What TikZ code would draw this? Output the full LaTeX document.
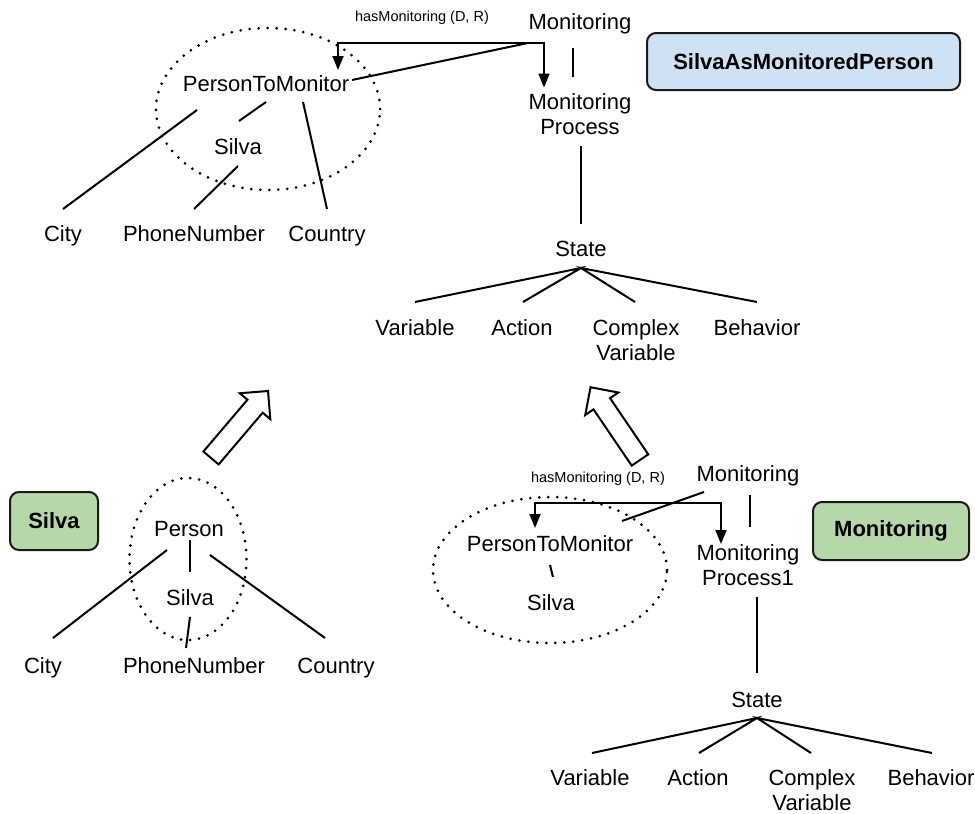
\documentclass[tikz,border=0pt]{standalone}
\usepackage{fontspec}
\setmainfont{Liberation Sans}
\usetikzlibrary{arrows.meta,shapes.geometric}
\definecolor{boxblue}{HTML}{CFE2F3}
\definecolor{boxgreen}{HTML}{B6D7A8}
\begin{document}
\begin{tikzpicture}[x=1pt,y=-1pt,
 lbl/.style={font=\fontsize{22}{25}\selectfont, inner sep=0pt, text height=16pt, text depth=0pt},
 lbltwo/.style={font=\fontsize{22}{25}\selectfont, inner sep=0pt, align=center},
 small/.style={font=\fontsize{14.5}{17}\selectfont, inner sep=0pt},
 conn/.style={line width=2pt},
 arr/.style={line width=2pt,-{Triangle[length=14pt,width=11pt]}},
 dotring/.style={ellipse, draw, line width=3pt, dash pattern=on 0pt off 9pt, line cap=round, inner sep=0pt},
 tag/.style={draw=black!90, line width=2pt, rounded corners=9pt, font=\fontsize{22}{25}\selectfont\bfseries, inner sep=0pt},
 hollow/.style={draw, line width=2pt, fill=white, line join=miter}
]
\useasboundingbox (0,0) rectangle (975,814);
\fill[white] (0,0) rectangle (975,814);

% ---------- top: SilvaAsMonitoredPerson ----------
\node[small] (hmT) at (422,18) {hasMonitoring (D, R)};
\node[lbl] (monT) at (580,21) {Monitoring};
\node[lbltwo] (mpT) at (580,114.5) {Monitoring\\Process};
\node[lbl] (ptmT) at (266,83) {PersonToMonitor};
\node[lbl] (silT) at (238,146) {Silva};
\node[lbl] (cityT) at (63,233) {City};
\node[lbl] (phoneT) at (194,233) {PhoneNumber};
\node[lbl] (countryT) at (327,233) {Country};
\node[lbl] (stateT) at (581,248) {State};
\node[lbl] (varT) at (415,327) {Variable};
\node[lbl] (actT) at (522,327) {Action};
\node[lbltwo] (cvT) at (636,340) {Complex\\Variable};
\node[lbl] (behT) at (757,327) {Behavior};
\node[tag, fill=boxblue, minimum width=313pt, minimum height=57pt] (boxT) at (803.5,61.5) {SilvaAsMonitoredPerson};
\node[dotring, minimum width=224pt, minimum height=162pt] (ringT) at (268,109) {};

\coordinate (forkT) at ([shift={(-52,22)}]monT.center);
\draw[arr] (forkT) -| ([shift={(-36,-27)}]mpT.center);
\draw[arr] (forkT) -| ([shift={(72,-13)}]ptmT.center);
\draw[conn] (forkT) -- ([shift={(86,-3)}]ptmT.center);
\draw[conn] ([shift={(-7,27)}]monT.center) -- ([shift={(-7,-37.5)}]mpT.center);
\draw[conn] ([shift={(1,31.5)}]mpT.center) -- ([shift={(0,-24)}]stateT.center);
\draw[conn] ([shift={(-69,27)}]ptmT.center) -- ([shift={(0,-24)}]cityT.center);
\draw[conn] ([shift={(0,19)}]ptmT.center) -- ([shift={(1,-25)}]silT.center);
\draw[conn] ([shift={(0,20)}]silT.center) -- ([shift={(0,-24)}]phoneT.center);
\draw[conn] ([shift={(37,19)}]ptmT.center) -- ([shift={(0,-24)}]countryT.center);
\coordinate (jT) at ([shift={(0,20)}]stateT.center);
\draw[conn] ([shift={(0,-25)}]varT.center) -- (jT) -- ([shift={(1,-25)}]actT.center);
\draw[conn] ([shift={(-1,-38)}]cvT.center) -- (jT) -- ([shift={(0,-25)}]behT.center);

% ---------- bottom left: Silva ----------
\node[tag, fill=boxgreen, minimum width=88pt, minimum height=58pt] (boxS) at (54,521) {Silva};
\node[dotring, minimum width=117pt, minimum height=162pt] (ringL) at (188,559) {};
\node[lbl] (perL) at (189,528) {Person};
\node[lbl] (silL) at (190,597) {Silva};
\node[lbl] (cityL) at (43,665) {City};
\node[lbl] (phoneL) at (194,665) {PhoneNumber};
\node[lbl] (countryL) at (336,665) {Country};
\draw[conn] ([shift={(1,12)}]perL.center) -- ([shift={(0,-25)}]silL.center);
\draw[conn] ([shift={(-22,22)}]perL.center) -- ([shift={(10,-27)}]cityL.center);
\draw[conn] ([shift={(21,27)}]perL.center) -- ([shift={(-11,-27)}]countryL.center);
\draw[conn] ([shift={(0,20)}]silL.center) -- ([shift={(-8,-17)}]phoneL.center);

% ---------- bottom right: Monitoring ----------
\node[small] (hmB) at (598,479) {hasMonitoring (D, R)};
\node[lbl] (monB) at (748,473) {Monitoring};
\node[lbltwo] (mpB) at (748,565) {Monitoring\\Process1};
\node[lbl] (ptmB) at (550,543) {PersonToMonitor};
\node[lbl] (silB) at (551,602) {Silva};
\node[dotring, minimum width=234pt, minimum height=146pt] (ringR) at (550,570) {};
\node[lbl] (stateB) at (757,699) {State};
\node[lbl] (varB) at (590,777) {Variable};
\node[lbl] (actB) at (698,777) {Action};
\node[lbltwo] (cvB) at (812,790) {Complex\\Variable};
\node[lbl] (behB) at (931,777) {Behavior};
\node[tag, fill=boxgreen, minimum width=156pt, minimum height=58pt] (boxM) at (891,531) {Monitoring};

\coordinate (forkB) at ([shift={(-120,30)}]monB.center);
\draw[arr] (forkB) -| ([shift={(-15,-15)}]ptmB.center);
\draw[arr] (forkB) -| ([shift={(-27,-21)}]mpB.center);
\draw[conn] ([shift={(-44,19)}]monB.center) -- ([shift={(72,-22)}]ptmB.center);
\draw[conn] ([shift={(2,22)}]monB.center) -- ([shift={(2,-38)}]mpB.center);
\draw[conn] ([shift={(9,32)}]mpB.center) -- ([shift={(0,-26)}]stateB.center);
\draw[conn] ([shift={(0,22)}]ptmB.center) -- ([shift={(2,-25)}]silB.center);
\coordinate (jB) at ([shift={(0,19)}]stateB.center);
\draw[conn] ([shift={(2,-24)}]varB.center) -- (jB) -- ([shift={(1,-24)}]actB.center);
\draw[conn] ([shift={(-1,-37)}]cvB.center) -- (jB) -- ([shift={(1,-24)}]behB.center);

% ---------- hollow arrows ----------
\begin{scope}[shift={(211,458)}, rotate=49.6]
\draw[hollow] (0,-10) -- (68,-10) -- (68,-20) -- (88,0) -- (68,20) -- (68,10) -- (0,10) -- cycle;
\end{scope}
\begin{scope}[shift={(640,460)}, rotate=124.2]
\draw[hollow] (0,-10) -- (68,-10) -- (68,-20) -- (88,0) -- (68,20) -- (68,10) -- (0,10) -- cycle;
\end{scope}
\end{tikzpicture}
\end{document}
